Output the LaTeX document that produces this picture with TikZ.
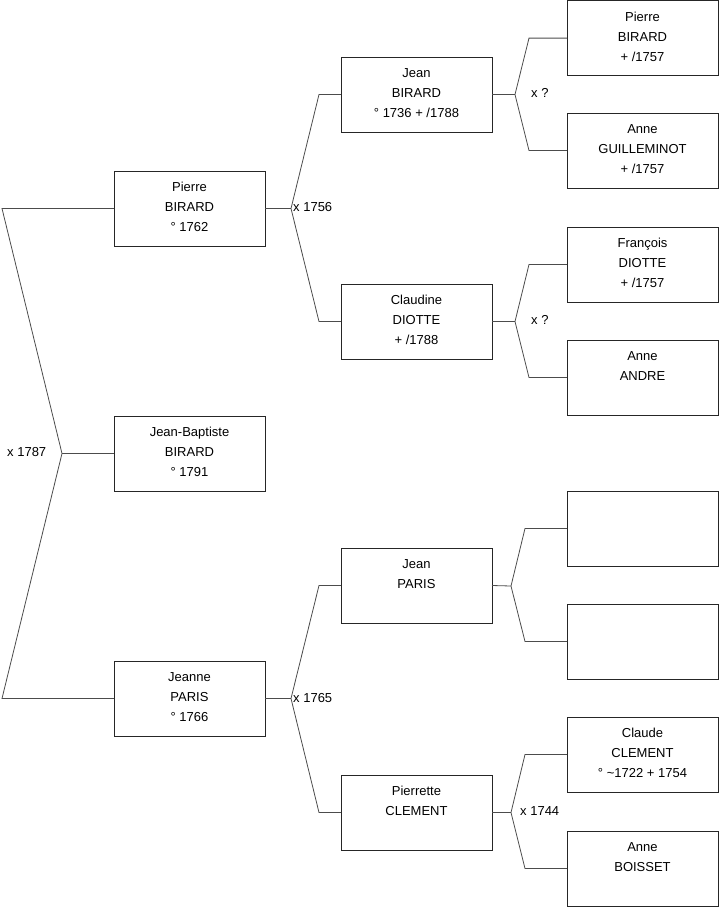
\documentclass[tikz,border=0pt]{standalone}
\usepackage{fontspec}
\setmainfont{Liberation Sans}
\newcommand\ptext[1]{\parbox[t][75pt][t]{151pt}{\centering\rule{0pt}{20.5pt}#1}}
\tikzset{
  person/.style={draw=black!85, line width=0.8pt, inner sep=0pt, outer sep=0pt, anchor=north west},
  link/.style={draw=black!70, line width=0.8pt},
  mlabel/.style={anchor=base west, inner sep=0pt, font=\fontsize{13pt}{20pt}\selectfont}
}
\begin{document}
\begin{tikzpicture}[x=1pt, y=-1pt, font=\fontsize{13pt}{20pt}\selectfont]
\useasboundingbox (0,0) rectangle (719,908);
% level 1
\node[person] (p1) at (114,171) {\ptext{Pierre\\BIRARD\\° 1762}};
\node[person] (p0) at (114,416) {\ptext{Jean-Baptiste\\BIRARD\\° 1791}};
\node[person] (p2) at (114,661) {\ptext{Jeanne\\PARIS\\° 1766}};
% level 2
\node[person] (p11) at (341,57) {\ptext{Jean\\BIRARD\\° 1736 + /1788}};
\node[person] (p12) at (341,284) {\ptext{Claudine\\DIOTTE\\+ /1788}};
\node[person] (p21) at (341,548) {\ptext{Jean\\PARIS}};
\node[person] (p22) at (341,775) {\ptext{Pierrette\\CLEMENT}};
% level 3
\node[person] (p111) at (567,0.6) {\ptext{Pierre\\BIRARD\\+ /1757}};
\node[person] (p112) at (567,113) {\ptext{Anne\\GUILLEMINOT\\+ /1757}};
\node[person] (p121) at (567,227) {\ptext{François\\DIOTTE\\+ /1757}};
\node[person] (p122) at (567,340) {\ptext{Anne\\ANDRE}};
\node[person] (p211) at (567,491) {\ptext{}};
\node[person] (p212) at (567,604) {\ptext{}};
\node[person] (p221) at (567,717) {\ptext{Claude\\CLEMENT\\° \textasciitilde1722 + 1754}};
\node[person] (p222) at (567,831) {\ptext{Anne\\BOISSET}};
% fork points
\coordinate (v0) at (62,453.5);
\coordinate (v1) at (291,208.5);
\coordinate (v2) at (291,698.5);
\coordinate (v11) at (515,94.5);
\coordinate (v12) at (515,321.5);
\coordinate (v21) at (511,586);
\coordinate (v22) at (511,812.5);
% connectors
\draw[link] (p0.west) -- (v0);
\draw[link] (p1.west) -- (2,208.5) -- (v0) -- (2,698.5) -- (p2.west);
\draw[link] (p1.east) -- (v1);
\draw[link] (p11.west) -- (319,94.5) -- (v1) -- (319,321.5) -- (p12.west);
\draw[link] (p2.east) -- (v2);
\draw[link] (p21.west) -- (319,585.5) -- (v2) -- (319,812.5) -- (p22.west);
\draw[link] (p11.east) -- (v11);
\draw[link] (p111.west) -- (529,38.1) -- (v11) -- (529,150.5) -- (p112.west);
\draw[link] (p12.east) -- (v12);
\draw[link] (p121.west) -- (529,264.5) -- (v12) -- (529,377.5) -- (p122.west);
\draw[link] (p21.east) -- (v21);
\draw[link] (p211.west) -- (525,528.5) -- (v21) -- (525,641.5) -- (p212.west);
\draw[link] (p22.east) -- (v22);
\draw[link] (p221.west) -- (525,754.5) -- (v22) -- (525,868.5) -- (p222.west);
% marriage labels
\node[mlabel] (m0) at (7,456.5) {x 1787};
\node[mlabel] (m1) at (293,211.5) {x 1756};
\node[mlabel] (m2) at (293,702) {x 1765};
\node[mlabel] (m11) at (531,97) {x ?};
\node[mlabel] (m12) at (531,324) {x ?};
\node[mlabel] (m22) at (520,815) {x 1744};
\end{tikzpicture}
\end{document}
